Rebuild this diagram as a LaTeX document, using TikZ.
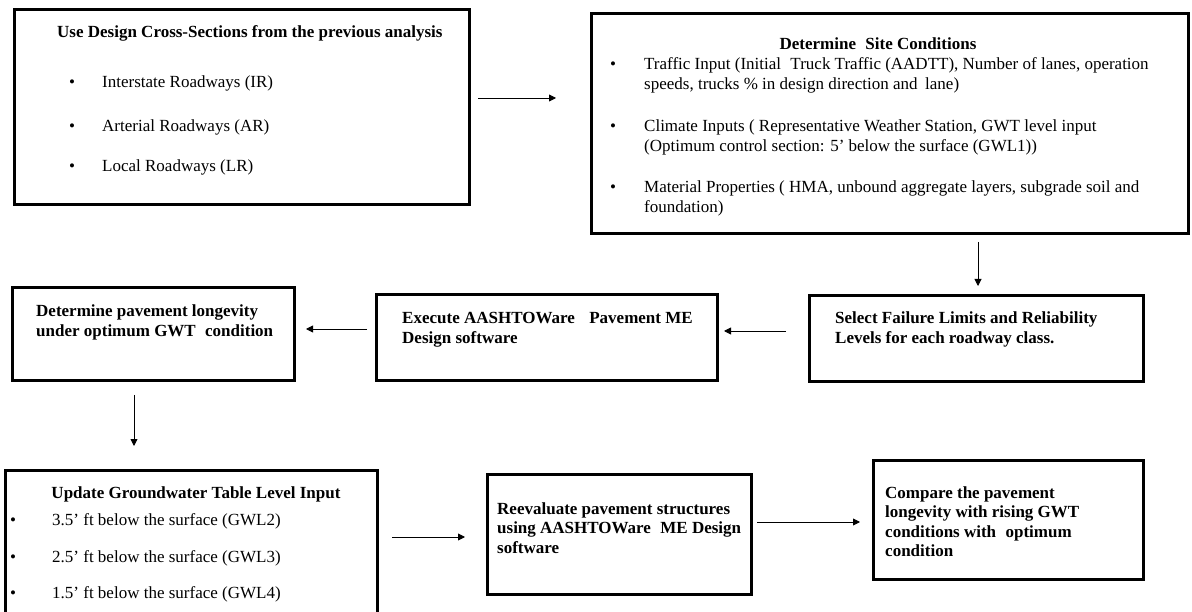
\documentclass[tikz,border=0pt]{standalone}
\usepackage{fontspec}
\setmainfont{Liberation Serif}
\usetikzlibrary{arrows.meta}
\begin{document}
\begin{tikzpicture}[x=1pt,y=-1pt,
  stepbox/.style={draw=black,line width=2.8pt,inner sep=0pt,anchor=north west},
  head/.style={font=\fontsize{17}{19.5}\selectfont\bfseries,inner sep=0pt,anchor=base west,align=left},
  body/.style={font=\fontsize{17}{19.5}\selectfont,inner sep=0pt,anchor=base west,align=left},
  dot/.style={font=\fontsize{17}{19.5}\selectfont,inner sep=0pt,anchor=base},
  link/.style={line width=0.9pt,-{Triangle[length=7pt,width=7pt]}}]
\clip (0,0) rectangle (1192,612);
\fill[white] (0,0) rectangle (1192,612);

% ---- boxes ----
\node[stepbox,minimum width=455pt,minimum height=195pt] (b1) at (13,8) {};
\node[stepbox,minimum width=597pt,minimum height=220pt] (b2) at (590,12) {};
\node[stepbox,minimum width=282pt,minimum height=93pt] (b3) at (11,286) {};
\node[stepbox,minimum width=341pt,minimum height=86pt] (b4) at (375,293) {};
\node[stepbox,minimum width=334pt,minimum height=86pt] (b5) at (808,294) {};
\node[stepbox,minimum width=372pt,minimum height=180pt] (b6) at (4,469) {};
\node[stepbox,minimum width=264pt,minimum height=120pt] (b7) at (486,473) {};
\node[stepbox,minimum width=270pt,minimum height=119pt] (b8) at (872,459) {};

% ---- box 1: cross-sections ----
\node[head] (t1) at (57,38) {Use Design Cross-Sections from the previous analysis};
\node[dot] (d11) at (72,88) {\textbullet};
\node[body] (i11) at (102,88) {Interstate Roadways (IR)};
\node[dot] (d12) at (72,132) {\textbullet};
\node[body] (i12) at (102,132) {Arterial Roadways (AR)};
\node[dot] (d13) at (72,172) {\textbullet};
\node[body] (i13) at (102,172) {Local Roadways (LR)};

% ---- box 2: site conditions (multi-line texts sit on their last baseline) ----
\node[head,anchor=base] (t2) at (878,50) {Determine\hspace{0.3em} Site Conditions};
\node[dot] (d21) at (613,70) {\textbullet};
\node[body] (i21) at (644,89.5) {Traffic Input (Initial\hspace{0.3em} Truck Traffic (AADTT), Number of lanes, operation\\speeds, trucks \% in design direction and\hspace{0.2em} lane)};
\node[dot] (d22) at (613,132) {\textbullet};
\node[body] (i22) at (644,151.5) {Climate Inputs ( Representative Weather Station, GWT level input\\(Optimum control section: 5’ below the surface (GWL1))};
\node[dot] (d23) at (613,193) {\textbullet};
\node[body] (i23) at (644,212.5) {Material Properties ( HMA, unbound aggregate layers, subgrade soil and\\foundation)};

% ---- middle row ----
\node[head] (t3) at (36,336.5) {Determine pavement longevity\\under optimum GWT\hspace{0.3em} condition};
\node[head] (t4) at (402,343.5) {Execute AASHTOWare\hspace{0.6em} Pavement ME\\Design software};
\node[head] (t5) at (835,343.5) {Select Failure Limits and Reliability\\Levels for each roadway class.};

% ---- box 6: groundwater levels ----
\node[head,anchor=base] (t6) at (196,498) {Update Groundwater Table Level Input};
\node[dot] (d61) at (13,525) {\textbullet};
\node[body] (i61) at (52,525) {3.5’ ft below the surface (GWL2)};
\node[dot] (d62) at (13,562) {\textbullet};
\node[body] (i62) at (52,562) {2.5’ ft below the surface (GWL3)};
\node[dot] (d63) at (13,598) {\textbullet};
\node[body] (i63) at (52,598) {1.5’ ft below the surface (GWL4)};

% ---- bottom row ----
\node[head] (t7) at (497,553) {Reevaluate pavement structures\\using AASHTOWare\hspace{0.3em} ME Design\\software};
\node[head] (t8) at (885,556.5) {Compare the pavement\\longevity with rising GWT\\conditions with\hspace{0.3em} optimum\\condition};

% ---- connector end points ----
\coordinate (a1s) at (478,98);  \coordinate (a1e) at (556,98);
\coordinate (a2s) at (978,242); \coordinate (a2e) at (978,286);
\coordinate (a3s) at (786,331); \coordinate (a3e) at (724,331);
\coordinate (a4s) at (367,329); \coordinate (a4e) at (306,329);
\coordinate (a5s) at (134,395); \coordinate (a5e) at (134,446);
\coordinate (a6s) at (392,537); \coordinate (a6e) at (465,537);
\coordinate (a7s) at (757,522); \coordinate (a7e) at (860,522);

\draw[link] (a1s) -- (a1e);
\draw[link] (a2s) -- (a2e);
\draw[link] (a3s) -- (a3e);
\draw[link] (a4s) -- (a4e);
\draw[link] (a5s) -- (a5e);
\draw[link] (a6s) -- (a6e);
\draw[link] (a7s) -- (a7e);
\end{tikzpicture}
\end{document}
